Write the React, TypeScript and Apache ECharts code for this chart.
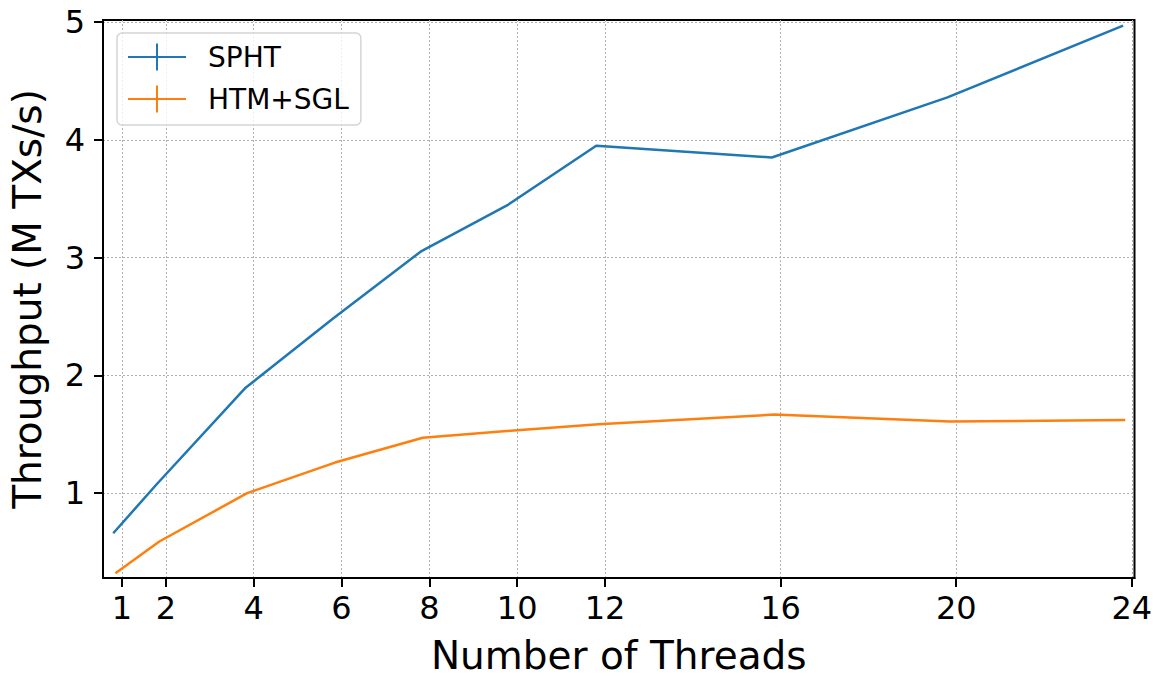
import React, { useEffect, useRef } from "react";
import * as echarts from "echarts";

const threadTicks = [1, 2, 4, 6, 8, 10, 12, 16, 20, 24];
const yTicks = [1, 2, 3, 4, 5];

const sphtX = [0.8, 1.8, 3.8, 5.8, 7.8, 9.8, 11.8, 15.8, 19.8, 23.8];
const sphtY = [0.66, 1.08, 1.89, 2.48, 3.05, 3.45, 3.95, 3.85, 4.36, 4.97];

const htmX = [0.85, 1.85, 3.85, 5.85, 7.85, 9.85, 11.85, 15.85, 19.85, 23.85];
const htmY = [0.32, 0.59, 1.0, 1.26, 1.47, 1.53, 1.585, 1.667, 1.608, 1.622];

const seriesNames = ["SPHT", "HTM+SGL"];
const colors = ["#1f77b4", "#ff7f0e"];
const FONT = "DejaVu Sans";

export default function App() {
  const ref = useRef<HTMLDivElement>(null);
  useEffect(() => {
    if (!ref.current) return;
    const chart = echarts.init(ref.current, null, { renderer: "svg" });
    const gridLine = { show: true, lineStyle: { color: "#b0b0b0", type: [2, 2], width: 1 } };
    const option: any = {
      animation: false,
      backgroundColor: "#ffffff",
      grid: {
        left: 103,
        top: 20,
        right: 27.5,
        bottom: 99,
        show: true,
        borderColor: "#000",
        borderWidth: 2,
        backgroundColor: "transparent",
        containLabel: false,
        outerBoundsMode: "none",
      },
      legend: {
        orient: "vertical",
        left: 117,
        top: 33,
        padding: [10, 12, 12, 11],
        itemWidth: 58,
        itemHeight: 27,
        itemGap: 14,
        backgroundColor: "rgba(255,255,255,0.8)",
        borderColor: "#d5d5d5",
        borderWidth: 1.5,
        borderRadius: 5,
        icon: "path://M0,12.5L58,12.5L58,14.5L0,14.5Z M28,0L30,0L30,27L28,27Z",
        textStyle: { fontSize: 28, fontFamily: FONT, color: "#000", padding: [0, 0, 0, 17] },
        data: seriesNames,
      },
      xAxis: {
        type: "value",
        min: 0.567,
        max: 24.06,
        name: "Number of Threads",
        nameLocation: "middle",
        nameGap: 58,
        nameTextStyle: { fontSize: 39, lineHeight: 39, fontFamily: FONT, color: "#000" },
        axisLine: { show: true, lineStyle: { color: "#000", width: 2 } },
        axisTick: { show: true, customValues: threadTicks, length: 9, lineStyle: { color: "#000", width: 2 } },
        axisLabel: { customValues: threadTicks, fontSize: 32, fontFamily: FONT, color: "#000", margin: 14 },
        splitLine: gridLine,
      },
      yAxis: {
        type: "value",
        min: 0.28,
        max: 5.017,
        name: "Throughput (M TXs/s)",
        nameLocation: "middle",
        nameGap: 56,
        nameTextStyle: { fontSize: 39, fontFamily: FONT, color: "#000" },
        axisLine: { show: true, lineStyle: { color: "#000", width: 2 } },
        axisTick: { show: true, customValues: yTicks, length: 9, lineStyle: { color: "#000", width: 2 } },
        axisLabel: { customValues: yTicks, fontSize: 32, fontFamily: FONT, color: "#000", margin: 18 },
        splitLine: gridLine,
      },
      series: [
        {
          name: seriesNames[0],
          type: "line",
          data: sphtX.map((x, i) => [x, sphtY[i]]),
          showSymbol: false,
          symbol: "none",
          color: colors[0],
          lineStyle: { color: colors[0], width: 2.5 },
        },
        {
          name: seriesNames[1],
          type: "line",
          data: htmX.map((x, i) => [x, htmY[i]]),
          showSymbol: false,
          symbol: "none",
          color: colors[1],
          lineStyle: { color: colors[1], width: 2.5 },
        },
      ],
    };
    chart.setOption(option);
    return () => chart.dispose();
  }, []);
  return (
    <div
      ref={ref}
      style={{ position: "fixed", left: 0, top: 0, width: 1162, height: 677, background: "#fff" }}
    />
  );
}
